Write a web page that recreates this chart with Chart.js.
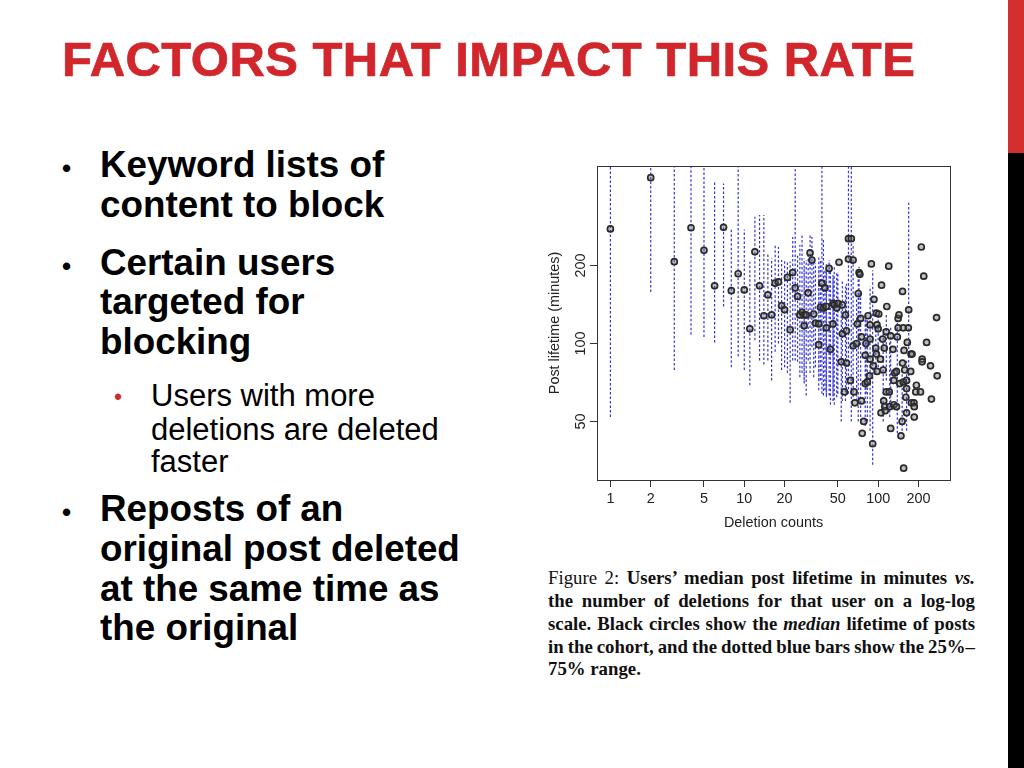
<!DOCTYPE html>
<html>
<head>
<meta charset="utf-8">
<script src="https://cdn.jsdelivr.net/npm/chart.js"></script>
<style>
  html, body { margin: 0; padding: 0; background: #fff; }
  body { width: 1024px; height: 768px; position: relative; overflow: hidden; font-family: "Liberation Sans", Arial, sans-serif; }
  .title { position: absolute; left: 62px; top: 35px; font-size: 49px; line-height: 49px; font-weight: bold; letter-spacing: 0.45px; color: #d0262c; -webkit-text-stroke: 0.7px #d0262c; white-space: nowrap; }
  .edge-red { position: absolute; left: 1008px; top: 0; width: 16px; height: 153px; background: #d32f2f; }
  .edge-black { position: absolute; left: 1008px; top: 153px; width: 16px; height: 615px; background: #000; }
  .ln { position: absolute; white-space: nowrap; color: #000; }
  .main { left: 100px; font-size: 36.8px; line-height: 36.8px; font-weight: bold; }
  .sub { left: 151px; font-size: 31px; line-height: 31px; }
  .dot { position: absolute; left: 62px; font-size: 26px; line-height: 26px; font-weight: bold; }
  .dot-red { position: absolute; left: 114px; font-size: 23px; line-height: 23px; color: #cf2a2f; }
  .cap { position: absolute; left: 548px; width: 427px; font-family: "Liberation Serif", "Times New Roman", serif; font-weight: bold; font-size: 18.8px; line-height: 18.8px; white-space: nowrap; text-align: justify; text-align-last: justify; color: #111; }
  .cap.tight { word-spacing: -1.4px; }
  .cap.last { text-align: left; text-align-last: left; }
  #chartBox { position: absolute; left: 530px; top: 150px; width: 430px; height: 390px; }
</style>
</head>
<body>
<div class="edge-red"></div>
<div class="edge-black"></div>
<div class="title">FACTORS THAT IMPACT THIS RATE</div>

<div class="dot" style="top:155px">•</div>
<div class="ln main" style="top:147px">Keyword lists of</div>
<div class="ln main" style="top:187px">content to block</div>

<div class="dot" style="top:253px">•</div>
<div class="ln main" style="top:245px">Certain users</div>
<div class="ln main" style="top:284px">targeted for</div>
<div class="ln main" style="top:324px">blocking</div>

<div class="dot-red" style="top:386px">•</div>
<div class="ln sub" style="top:380px">Users with more</div>
<div class="ln sub" style="top:414px">deletions are deleted</div>
<div class="ln sub" style="top:446px">faster</div>

<div class="dot" style="top:499px">•</div>
<div class="ln main" style="top:491px">Reposts of an</div>
<div class="ln main" style="top:531px">original post deleted</div>
<div class="ln main" style="top:571px">at the same time as</div>
<div class="ln main" style="top:610px">the original</div>

<div id="chartBox"><canvas id="lifetimeChart" width="430" height="390"></canvas></div>

<div class="cap" style="top:569px"><span style="font-weight:normal">Figure 2:</span> Users’ median post lifetime in minutes <i>vs.</i></div>
<div class="cap" style="top:592px">the number of deletions for that user on a log-log</div>
<div class="cap" style="top:615px">scale. Black circles show the <i>median</i> lifetime of posts</div>
<div class="cap tight" style="top:638px">in the cohort, and the dotted blue bars show the 25%–</div>
<div class="cap last" style="top:660px">75% range.</div>

<script>
// values (deletion count, median minutes, 25% / 75% minutes)
const deletions = [
  1, 2, 3, 4, 5, 6, 7, 8, 9, 10, 11, 12, 13, 14, 15, 16, 17, 18, 19, 20,
  21, 22, 23, 24, 25, 26, 27, 28, 28, 29, 30, 31, 32, 33, 34, 36, 36, 37, 38, 39,
  40, 41, 41, 43, 44, 46, 46, 47, 49, 50, 51, 53, 54, 54, 56, 57, 58, 58, 60, 60,
  62, 63, 65, 65, 66, 67, 69, 70, 71, 72, 73, 74, 75, 75, 76, 78, 80, 80, 81, 83,
  84, 86, 87, 87, 87, 89, 91, 92, 93, 96, 97, 97, 98, 98, 100, 101, 104, 105, 106, 108,
  109, 110, 111, 112, 113, 115, 115, 116, 120, 121, 122, 124, 124, 129, 131, 131, 133, 137, 137, 139,
  141, 141, 143, 145, 148, 151, 152, 152, 154, 154, 155, 156, 158, 161, 163, 163, 163, 165, 168, 169,
  175, 176, 177, 179, 185, 186, 186, 191, 193, 207, 210, 213, 213, 219, 230, 246, 250, 273, 276
];
const medianMinutes = [
  277, 437, 207, 280, 229, 167, 281, 160, 186, 161, 114, 226, 167, 128, 154, 129, 171, 173, 140, 135,
  180, 113, 188, 164, 152, 129, 132, 129, 117, 129, 157, 224, 210, 130, 120, 119, 99, 138, 171, 137,
  164, 139, 115, 195, 95, 143, 119, 141, 137, 143, 206, 85, 141, 109, 65, 129, 112, 84, 212, 254,
  72, 254, 210, 98, 65, 59, 100, 119, 156, 188, 185, 125, 60, 106, 45, 50, 70, 90, 100, 71,
  128, 75, 87, 104, 118, 203, 41, 82, 148, 96, 91, 131, 118, 78, 114, 130, 87, 54, 168, 104,
  79, 60, 96, 57, 55, 65, 111, 139, 199, 65, 57, 107, 47, 95, 58, 72, 77, 78, 57, 106,
  115, 125, 129, 70, 44, 50, 159, 84, 71, 115, 33, 94, 79, 62, 67, 72, 54, 101, 115, 135,
  78, 91, 59, 91, 59, 57, 52, 65, 69, 65, 236, 87, 85, 182, 101, 82, 61, 126, 75
];
const q25Minutes = [
  52, 158, 79, 108, 106, 101, 139, 81, 89, 79, 69, 103, 86, 83, 86, 72, 93, 100, 79, 81,
  77, 59, 86, 86, 85, 74, 77, 72, 70, 63, 86, 77, 97, 74, 81, 72, 66, 72, 64, 63,
  66, 63, 62, 63, 58, 64, 60, 58, 62, 64, null, 50, 60, 60, null, 60, 64, null, null, 64,
  null, 50, 62, null, null, null, 60, null, 50, 103, null, 50, null, null, null, null, 48, null, 64, 50,
  null, null, 46, null, null, null, 34, null, null, 77, null, null, null, null, 81, null, null, null, null, null,
  50, null, null, null, null, null, 72, null, null, null, 52, 57, null, null, null, null, null, null, null, 45,
  null, null, null, null, null, 46, null, null, null, null, null, null, null, null, 46, null, null, null, null, 72,
  null, null, null, null, null, null, null, null, null, null, null, null, null, null, null, null, null, null, null
];
const q75Minutes = [
  700, 700, 600, 600, 600, 425, 415, 278, 600, 276, 207, 309, 314, 314, 223, 213, 243, 236, 210, 210,
  207, 207, 258, 600, 220, 240, 262, 213, 200, 210, 223, 266, 258, 210, 204, 193, 215, 210, 550, 254,
  192, 198, 205, 210, 192, 184, 180, 198, 190, 189, null, 143, 176, 151, null, 166, 170, null, null, 550,
  null, 550, 243, null, null, null, 151, null, 192, 198, null, 156, null, null, null, null, 127, null, 131, 123,
  null, null, 166, null, null, null, 192, null, null, 116, null, null, null, null, 127, null, null, null, null, null,
  116, null, null, null, null, null, 131, null, null, null, 103, 116, null, null, null, null, null, null, null, 123,
  null, null, null, null, null, 79, null, null, null, null, null, null, null, null, 86, null, null, null, null, 350,
  null, null, null, null, null, null, null, null, null, null, null, null, null, null, null, null, null, null, null
];
const xTickValues = [1, 2, 5, 10, 20, 50, 100, 200];
const yTickValues = [50, 100, 200];

const medianPoints = deletions.map((d, i) => ({ x: d, y: medianMinutes[i] }));

// each range bar is a two-point segment, broken from the next one by a null
const rangeSegments = [];
deletions.forEach((d, i) => {
    if (q25Minutes[i] == null) return;
    rangeSegments.push({ x: d, y: q25Minutes[i] }, { x: d, y: q75Minutes[i] }, { x: d, y: null });
});

const axisFont = { family: '"Liberation Sans", Arial, sans-serif', size: 14.4 };

// R style box round the plot area
const plotFrame = {
    id: 'plotFrame',
    afterDraw(chart) {
        const { ctx, chartArea: a } = chart;
        ctx.save();
        ctx.strokeStyle = '#333';
        ctx.lineWidth = 1;
        ctx.strokeRect(Math.round(a.left) + 0.5, Math.round(a.top) + 0.5,
            Math.round(a.right - a.left), Math.round(a.bottom - a.top));
        ctx.restore();
    }
};

new Chart(document.getElementById('lifetimeChart'), {
    type: 'scatter',
    data: {
        datasets: [
            {
                label: 'median',
                data: medianPoints,
                pointRadius: 3,
                pointBorderWidth: 1.7,
                pointBorderColor: '#2a2a2a',
                pointBackgroundColor: 'rgba(100,100,100,0.4)',
                order: 0
            },
            {
                label: '25%-75%',
                data: rangeSegments,
                showLine: true,
                spanGaps: false,
                pointRadius: 0,
                borderColor: 'rgba(30,30,210,0.9)',
                borderWidth: 1.2,
                borderDash: [2.5, 2],
                order: 1
            }
        ]
    },
    options: {
        responsive: false,
        animation: false,
        devicePixelRatio: 1,
        layout: { padding: { top: 16, right: 10, left: 0, bottom: 0 } },
        plugins: { legend: { display: false }, tooltip: { enabled: false } },
        scales: {
            x: {
                type: 'logarithmic',
                min: 0.794,
                max: 344,
                afterBuildTicks: (s) => { s.ticks = xTickValues.map(v => ({ value: v })); },
                afterFit: (s) => { s.height = 60; },
                border: { display: false },
                grid: { drawOnChartArea: false, drawTicks: true, tickLength: 7, color: '#333' },
                ticks: { autoSkip: false, maxRotation: 0, padding: 3, color: '#222', font: axisFont, callback: (v) => String(v) },
                title: { display: true, text: 'Deletion counts', color: '#222', font: axisFont, padding: { top: 0, bottom: 8 } }
            },
            y: {
                type: 'logarithmic',
                min: 29.7,
                max: 485,
                afterBuildTicks: (s) => { s.ticks = yTickValues.map(v => ({ value: v })); },
                afterFit: (s) => { s.width = 67; },
                border: { display: false },
                grid: { drawOnChartArea: false, drawTicks: true, tickLength: 7, color: '#333' },
                ticks: { autoSkip: false, minRotation: 90, maxRotation: 90, crossAlign: 'center', padding: -3, color: '#222', font: axisFont, callback: (v) => String(v) },
                title: { display: true, text: 'Post lifetime (minutes)', color: '#222', font: axisFont, padding: { top: 16.6, bottom: 0 } }
            }
        }
    },
    plugins: [plotFrame]
});
</script>
</body>
</html>
